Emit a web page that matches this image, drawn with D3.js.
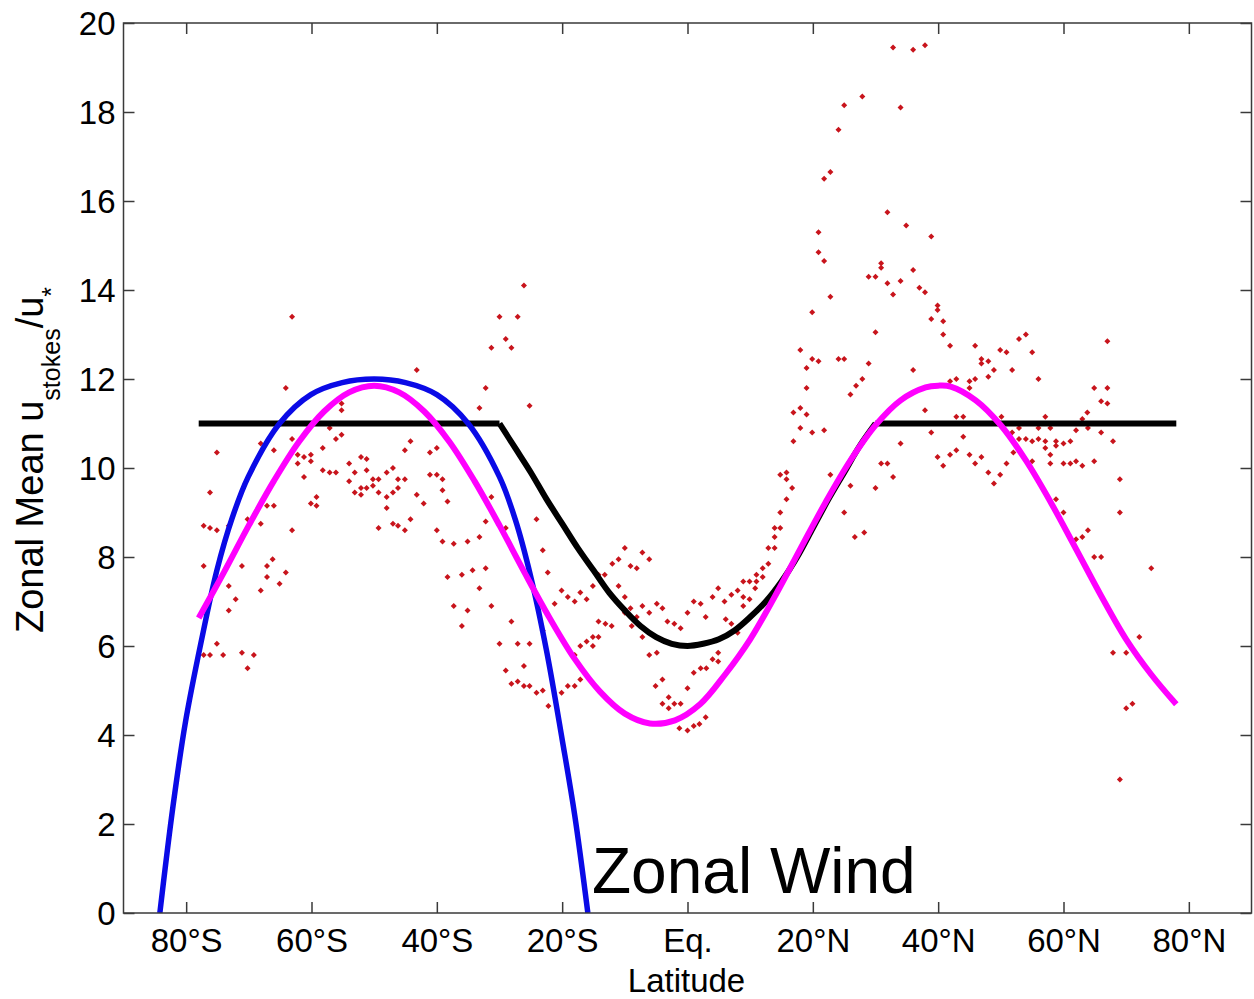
<!DOCTYPE html>
<html>
<head>
<meta charset="utf-8">
<script src="https://cdn.jsdelivr.net/npm/d3@7/dist/d3.min.js"></script>
<style>
  html, body { margin: 0; padding: 0; background: #fff; }
  svg { display: block; font-family: "Liberation Sans", Arial, sans-serif; }
</style>
</head>
<body>
<svg id="chart" width="1254" height="999"></svg>
<script>
// Tick positions and labels
const xTickVals = [-80, -60, -40, -20, 0, 20, 40, 60, 80];
const xTickLabels = ["80°S", "60°S", "40°S", "20°S", "Eq.", "20°N", "40°N", "60°N", "80°N"];
const yTickVals = [0, 2, 4, 6, 8, 10, 12, 14, 16, 18, 20];

// Observed zonal-mean ratio: [latitude, value]
const obsPoints = [
  [-26.1,14.1],[-63.1,13.4],[-30.0,13.4],[-27.1,13.4],[-29.0,12.9],[-31.3,12.7],[-28.1,12.7],[-43.2,12.2],
  [-64.1,11.8],[-32.2,11.8],[-25.2,11.4],[-33.2,11.35],[-55.2,11.45],[-55.2,11.3],[-57.1,10.9],[-56.1,10.65],
  [-55.2,10.75],[-63.1,10.65],[-68.1,10.55],[-75.1,10.35],[-66.0,10.4],[-44.2,10.6],[-45.1,10.4],[-41.1,10.35],
  [-40.0,10.45],[-58.2,10.45],[-62.2,10.3],[-61.2,10.25],[-60.1,10.3],[-60.1,10.15],[-62.2,10.1],[-54.0,10.1],
  [-52.1,10.25],[-51.2,10.2],[-58.2,9.95],[-57.1,9.9],[-56.1,9.9],[-53.1,9.9],[-51.2,9.95],[-48.0,9.9],
  [-47.0,10.0],[-46.2,9.75],[-45.1,9.75],[-41.1,9.85],[-40.0,9.85],[-39.1,9.75],[-61.2,9.8],[-54.0,9.7],
  [-50.2,9.75],[-49.3,9.75],[-50.2,9.6],[-51.2,9.55],[-53.1,9.45],[-52.1,9.4],[-52.1,9.55],[-49.3,9.45],
  [-48.0,9.35],[-47.0,9.45],[-46.2,9.55],[-59.2,9.35],[-60.1,9.2],[-59.2,9.15],[-43.2,9.4],[-42.1,9.2],
  [-39.1,9.5],[-38.3,9.25],[-76.2,9.45],[-67.1,9.15],[-66.0,9.15],[-48.0,9.1],[-44.2,8.85],[-49.3,8.65],
  [-47.0,8.75],[-46.2,8.7],[-45.1,8.6],[-77.2,8.7],[-76.2,8.65],[-75.1,8.6],[-73.2,8.7],[-70.2,8.85],
  [-68.1,8.75],[-63.1,8.6],[-40.0,8.6],[-39.1,8.35],[-37.3,8.3],[-35.1,8.35],[-33.2,8.45],[-32.2,8.8],
  [-29.0,8.65],[-31.3,9.35],[-24.1,8.85],[-23.1,8.15],[-77.2,7.8],[-71.1,7.8],[-67.1,7.8],[-66.2,7.95],
  [-64.1,7.65],[-68.1,7.25],[-65.1,7.4],[-67.1,7.55],[-73.2,7.35],[-72.1,7.05],[-73.2,6.8],[-38.3,7.55],
  [-36.0,7.6],[-34.3,7.7],[-32.2,7.75],[-33.2,7.3],[-37.3,6.9],[-35.1,6.8],[-31.3,6.9],[-36.0,6.45],
  [-28.1,6.55],[-30.0,6.05],[-27.1,6.05],[-25.2,6.05],[-26.1,5.55],[-29.0,5.45],[-28.1,5.15],[-27.1,5.2],
  [-26.1,5.1],[-25.2,5.1],[-24.1,4.95],[-23.1,5.0],[-22.3,7.65],[-23.1,6.35],[-75.1,6.05],[-77.2,5.8],
  [-76.2,5.8],[-74.1,5.8],[-71.1,5.85],[-69.2,5.8],[-70.2,5.5],
  [14.8,9.85],[15.8,9.9],[15.8,9.75],[16.7,9.55],[15.8,9.3],[14.8,9.0],[13.9,8.65],[14.8,8.65],
  [13.9,8.45],[12.9,8.2],[13.9,8.2],[12.9,7.85],[12.0,7.75],[11.0,7.6],[12.0,7.55],[11.0,7.45],
  [9.9,7.45],[8.9,7.45],[10.8,7.3],[8.9,7.1],[9.9,7.05],[8.9,6.9],[7.0,7.15],[8.0,7.25],
  [4.9,7.3],[4.0,7.1],[5.9,7.0],[2.9,6.65],[1.0,7.0],[2.1,6.95],[0.0,6.75],[7.0,6.5],
  [8.0,6.3],[6.1,6.6],[22.8,9.85],[4.9,5.85],[4.9,5.65],[4.0,5.7],[3.0,5.5],[2.1,5.5],
  [1.0,5.4],[0.0,5.05],[-1.1,4.7],[-2.1,4.7],[-3.0,4.85],[-3.0,4.6],[-4.0,5.25],[-5.1,5.1],
  [-4.0,4.7],[-1.3,4.15],[0.0,4.1],[1.0,4.2],[1.9,4.25],[2.9,4.4],[-4.9,5.85],[-6.1,5.8],
  [-7.2,6.2],[-10.0,8.2],[-7.2,8.1],[-6.1,7.95],[-11.0,7.95],[-12.0,7.85],[-9.1,7.8],[-8.1,7.75],
  [-13.2,7.6],[-14.2,7.6],[-11.0,7.35],[-10.0,7.1],[-4.9,6.95],[-4.0,6.85],[-6.1,6.75],[-7.2,6.9],
  [-9.1,6.85],[-10.0,6.75],[-8.1,6.65],[-8.9,6.45],[-3.2,6.55],[-2.1,6.5],[-1.1,6.4],[-15.1,7.35],
  [-16.1,7.05],[-17.1,7.2],[-19.1,7.1],[-20.1,7.25],[-18.0,7.0],[-21.2,6.95],[-14.2,6.55],[-13.1,6.5],
  [-12.1,6.45],[-14.2,6.2],[-15.1,6.2],[-16.1,6.1],[-15.1,6.0],[-17.1,6.0],[-18.0,5.8],[-17.1,5.25],
  [-19.1,5.1],[-18.0,5.1],[-20.1,4.95],[-22.2,4.65],
  [32.8,19.45],[36.0,19.4],[37.9,19.5],[27.9,18.35],[25.0,18.15],[34.0,18.1],[24.1,17.6],[22.8,16.65],
  [21.8,16.5],[31.9,15.75],[34.9,15.45],[38.9,15.2],[20.9,15.3],[20.9,14.85],[21.8,14.65],[30.9,14.6],
  [30.9,14.5],[28.9,14.3],[30.0,14.3],[36.0,14.45],[31.9,14.15],[34.0,14.2],[32.8,13.9],[37.0,14.05],
  [37.9,13.95],[22.8,13.85],[19.9,13.5],[39.9,13.65],[39.9,13.55],[38.9,13.35],[40.8,13.3],[40.8,13.0],
  [30.0,13.05],[41.9,12.75],[45.9,12.75],[18.0,12.65],[19.9,12.45],[20.9,12.4],[24.1,12.45],[25.0,12.45],
  [28.9,12.35],[19.0,12.25],[36.0,12.2],[46.9,12.45],[46.9,12.35],[48.0,12.4],[48.9,12.2],[48.0,12.05],
  [45.9,12.0],[45.0,11.95],[45.0,11.8],[42.9,12.0],[41.9,11.95],[27.9,12.0],[26.9,11.85],[26.0,11.65],
  [19.0,11.8],[16.9,11.25],[18.0,11.35],[19.0,11.2],[18.0,10.9],[19.9,10.8],[21.8,10.85],[16.9,10.6],
  [37.9,11.3],[38.9,10.8],[42.9,11.15],[44.0,11.15],[44.0,10.7],[34.0,10.55],[39.9,10.25],[40.8,10.05],
  [41.9,10.3],[42.9,10.4],[45.0,10.3],[45.9,10.1],[46.9,10.25],[48.0,9.9],[48.9,9.65],[30.9,10.1],
  [31.9,10.1],[32.8,9.8],[30.0,9.55],[26.0,9.6],[25.0,9.0],[26.7,8.45],[28.2,8.55],
  [49.9,12.65],[50.9,12.6],[52.9,12.9],[54.0,13.0],[55.0,12.6],[51.8,12.2],[56.0,12.0],[67.0,12.85],
  [64.9,11.8],[67.0,11.8],[66.0,11.5],[67.0,11.45],[63.8,11.25],[63.0,11.1],[57.1,11.15],[50.1,11.15],
  [52.9,10.9],[56.0,10.9],[57.9,10.9],[62.0,10.85],[63.9,10.9],[66.0,10.8],[51.8,10.8],[52.9,10.65],
  [54.0,10.65],[55.0,10.6],[56.0,10.65],[57.1,10.6],[58.8,10.6],[58.8,10.5],[60.0,10.55],[61.1,10.6],
  [67.9,10.6],[57.1,10.45],[52.0,10.35],[57.9,10.3],[55.0,10.15],[57.9,10.1],[60.0,10.1],[61.1,10.1],
  [62.0,10.15],[63.0,10.05],[64.9,10.15],[50.9,10.1],[49.9,9.85],[69.0,9.75],[58.8,9.3],[60.0,9.0],
  [69.0,9.0],[62.0,8.4],[63.0,8.45],[63.9,8.6],[64.9,8.0],[66.0,8.0],[74.0,7.75],[72.1,6.2],
  [67.9,5.85],[70.0,5.85],[70.0,4.6],[71.0,4.7],[69.0,3.0]
];

// Zonal wind profile (black): flat plateau with equatorial dip
const windCurve = [
  [-78,11],[-30,11],[-27.5,10.45],[-25,9.9],[-22.5,9.3],[-20,8.75],[-17.5,8.2],[-15,7.7],[-12.5,7.2],
  [-10,6.8],[-7.5,6.45],[-5,6.2],[-2.5,6.05],[0,6.0],[2.5,6.05],[5,6.15],[7.5,6.35],[10,6.65],
  [12.5,7.0],[15,7.45],[17.5,8.0],[20,8.65],[22.5,9.3],[25,9.9],[27.5,10.5],[30,11],[78,11]
];

// Southern-hemisphere fit (blue)
const southFit = [
  [-84.2,0],[-82.1,2.4],[-80.1,4.3],[-77.6,6.1],[-75.1,7.7],[-72.6,8.9],[-70.1,9.8],[-65.1,11.0],
  [-60.1,11.65],[-55.1,11.92],[-50.0,12.0],[-45.0,11.92],[-40.0,11.65],[-35.0,11.0],[-30.0,9.8],
  [-27.5,8.85],[-25.0,7.55],[-22.5,5.9],[-20.0,3.9],[-18.0,2.2],[-15.9,0]
];

// Global fit (magenta)
const globalFit = [
  [-78,6.63],[-74,7.65],[-70,8.71],[-66,9.71],[-62,10.59],[-58,11.27],[-54,11.70],[-50,11.85],
  [-46,11.70],[-42,11.27],[-38,10.59],[-34,9.71],[-30,8.71],[-26,7.65],[-22,6.63],[-18,5.71],
  [-14,4.98],[-10,4.48],[-6,4.26],[-2,4.33],[2,4.69],[6,5.36],[10,6.15],[14,7.13],[18,8.18],
  [22,9.22],[26,10.17],[30,10.96],[34,11.52],[38,11.81],[40,11.85],[42,11.83],[46,11.52],
  [50,10.96],[54,10.17],[58,9.22],[62,8.18],[66,7.13],[70,6.15],[74,5.36],[78,4.69]
];

const svg = d3.select("#chart");
const plot = { left: 123.5, right: 1251.5, top: 23, bottom: 913 };

const x = d3.scaleLinear().domain([-90, 90]).range([plot.left, plot.right]);
const y = d3.scaleLinear().domain([0, 20]).range([plot.bottom, plot.top]);

svg.append("defs").append("clipPath").attr("id", "plotClip")
  .append("rect")
  .attr("x", plot.left).attr("y", plot.top)
  .attr("width", plot.right - plot.left).attr("height", plot.bottom - plot.top);

const axisColor = "#3a3a3a";
const tickLen = 11;

// Observations (small diamonds)
const marker = d3.symbol().type(d3.symbolSquare).size(18);
svg.append("g").attr("clip-path", "url(#plotClip)")
  .selectAll("path").data(obsPoints).join("path")
  .attr("d", marker)
  .attr("transform", d => `translate(${x(d[0])},${y(d[1])}) rotate(45)`)
  .attr("fill", "#c8141c");

const lines = svg.append("g").attr("clip-path", "url(#plotClip)");
const smooth = d3.line().x(d => x(d[0])).y(d => y(d[1])).curve(d3.curveCatmullRom.alpha(0.5));
const straight = d3.line().x(d => x(d[0])).y(d => y(d[1]));

// Black profile: straight plateaus joined by a smooth dip
const nW = windCurve.length;
const windParts = [
  { d: windCurve.slice(0, 2), gen: straight },
  { d: windCurve.slice(1, nW - 1), gen: smooth },
  { d: windCurve.slice(nW - 2), gen: straight }
];
lines.selectAll("path.wind").data(windParts).join("path")
  .attr("class", "wind")
  .attr("d", p => p.gen(p.d))
  .attr("fill", "none").attr("stroke", "#000").attr("stroke-width", 6)
  .attr("stroke-linejoin", "round");

lines.append("path")
  .datum(southFit)
  .attr("d", smooth)
  .attr("fill", "none").attr("stroke", "#0a0ae6").attr("stroke-width", 5.5);

lines.append("path")
  .datum(globalFit)
  .attr("d", smooth)
  .attr("fill", "none").attr("stroke", "#ff00ff").attr("stroke-width", 6);

// Box with inward ticks on all four sides
svg.append("rect")
  .attr("x", plot.left).attr("y", plot.top)
  .attr("width", plot.right - plot.left).attr("height", plot.bottom - plot.top)
  .attr("fill", "none").attr("stroke", axisColor).attr("stroke-width", 1.5);

const xAxisBottom = d3.axisBottom(x).tickValues(xTickVals)
  .tickSizeInner(-tickLen).tickSizeOuter(0)
  .tickFormat((d, i) => xTickLabels[i]);
const gxb = svg.append("g").attr("transform", `translate(0,${plot.bottom})`).call(xAxisBottom);
gxb.select(".domain").remove();
gxb.selectAll(".tick line").attr("stroke", axisColor).attr("stroke-width", 1.5);
gxb.selectAll(".tick text")
  .attr("y", 39).attr("dy", 0)
  .attr("fill", "#000").style("font-size", "33px")
  .style("font-family", "'Liberation Sans', Arial, sans-serif");

const xAxisTop = d3.axisTop(x).tickValues(xTickVals)
  .tickSizeInner(-tickLen).tickSizeOuter(0).tickFormat("");
const gxt = svg.append("g").attr("transform", `translate(0,${plot.top})`).call(xAxisTop);
gxt.select(".domain").remove();
gxt.selectAll(".tick line").attr("stroke", axisColor).attr("stroke-width", 1.5);

const yAxisLeft = d3.axisLeft(y).tickValues(yTickVals)
  .tickSizeInner(-tickLen).tickSizeOuter(0).tickFormat(d3.format("d"));
const gyl = svg.append("g").attr("transform", `translate(${plot.left},0)`).call(yAxisLeft);
gyl.select(".domain").remove();
gyl.selectAll(".tick line").attr("stroke", axisColor).attr("stroke-width", 1.5);
gyl.selectAll(".tick text")
  .attr("x", -8).attr("dy", "0.358em")
  .attr("fill", "#000").style("font-size", "33px")
  .style("font-family", "'Liberation Sans', Arial, sans-serif");

const yAxisRight = d3.axisRight(y).tickValues(yTickVals)
  .tickSizeInner(-tickLen).tickSizeOuter(0).tickFormat("");
const gyr = svg.append("g").attr("transform", `translate(${plot.right},0)`).call(yAxisRight);
gyr.select(".domain").remove();
gyr.selectAll(".tick line").attr("stroke", axisColor).attr("stroke-width", 1.5);

// Axis titles
svg.append("text")
  .attr("x", (plot.left + plot.right) / 2 - 1).attr("y", 992)
  .attr("text-anchor", "middle")
  .style("font-size", "33px").attr("fill", "#000")
  .text("Latitude");

const yTitle = svg.append("text")
  .attr("transform", "translate(43,633) rotate(-90)")
  .attr("text-anchor", "start")
  .style("font-size", "38px").attr("fill", "#000");
yTitle.append("tspan").text("Zonal Mean u");
yTitle.append("tspan").attr("dy", 17).style("font-size", "25px").text("stokes");
yTitle.append("tspan").attr("dy", -17).text("/u");
yTitle.append("tspan").attr("dy", 17).style("font-size", "25px").text("*");

// In-plot annotation
svg.append("text")
  .attr("x", 592).attr("y", 893)
  .style("font-size", "64px").attr("fill", "#000")
  .text("Zonal Wind");
</script>
</body>
</html>
